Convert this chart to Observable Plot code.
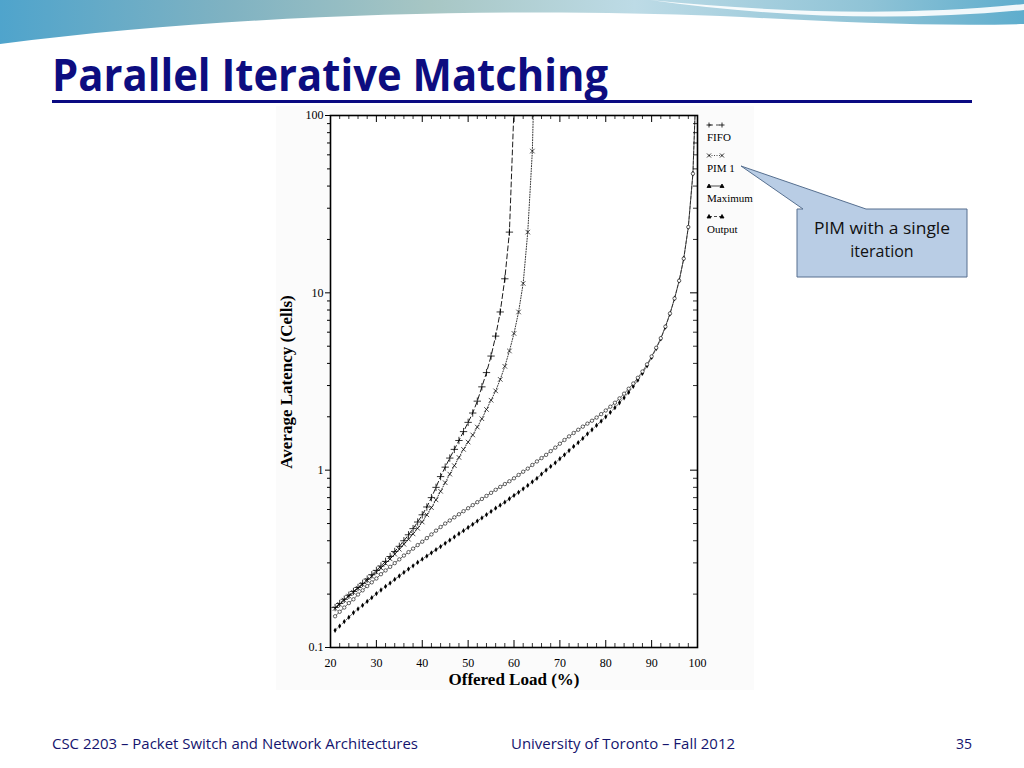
<!DOCTYPE html>
<html><head><meta charset="utf-8">
<script src="https://cdn.jsdelivr.net/npm/d3@7"></script>
<script src="https://cdn.jsdelivr.net/npm/@observablehq/plot@0.6"></script>
<style>
body{margin:0;background:#fff;}
#slide{position:relative;width:1024px;height:768px;overflow:hidden;background:#fff;}
.abs{position:absolute;}
</style></head><body>
<div id="slide">
<svg class="abs" style="left:0;top:0" width="1024" height="768" xmlns="http://www.w3.org/2000/svg">
  <defs>
    <linearGradient id="wg" x1="0" x2="1" y1="0" y2="0">
      <stop offset="0" stop-color="#4fa4cc"/>
      <stop offset="0.22" stop-color="#7fb2c2"/>
      <stop offset="0.42" stop-color="#a7c6c4"/>
      <stop offset="0.62" stop-color="#bddbe6"/>
      <stop offset="0.85" stop-color="#8fc3d6"/>
      <stop offset="1" stop-color="#5eadcd"/>
    </linearGradient>
  </defs>
  <path d="M0,0 H1024 V24 C930,27 820,21 720,16 C520,8 250,12 0,44 Z" fill="url(#wg)"/>
  <path d="M650,0 C770,12 900,17 1024,4 L1024,10 C900,22 770,17 650,0 Z" fill="#ffffff" opacity="0.9"/>
  <rect x="276" y="106" width="478" height="584" fill="#fbfbfb"/>
  <text x="52" y="91" font-family="Open Sans, sans-serif" font-weight="700" font-size="44" fill="#0d0d80" textLength="556" lengthAdjust="spacingAndGlyphs">Parallel Iterative Matching</text>
  <rect x="52" y="100" width="920" height="3" fill="#0a0a82"/>
  <text x="52" y="749" font-family="Open Sans, sans-serif" font-size="14" fill="#14146e" textLength="366" lengthAdjust="spacingAndGlyphs">CSC 2203 – Packet Switch and Network Architectures</text>
  <text x="511" y="749" font-family="Open Sans, sans-serif" font-size="14" fill="#14146e" textLength="224" lengthAdjust="spacingAndGlyphs">University of Toronto – Fall 2012</text>
  <text x="972" y="749" font-family="Open Sans, sans-serif" font-size="14" fill="#14146e" text-anchor="end">35</text>
  <text transform="translate(292,382) rotate(-90)" text-anchor="middle" font-family="Liberation Serif, serif" font-weight="700" font-size="17" fill="#000">Average Latency (Cells)</text>
  <text x="514" y="685" text-anchor="middle" font-family="Liberation Serif, serif" font-weight="700" font-size="17" fill="#000">Offered Load (%)</text>
  <g id="legend" font-family="Liberation Serif, serif" font-size="11" fill="#000"></g>
  <path d="M797,209 L803,209 L741,166 L866,209 L967,209 L967,277 L797,277 Z" fill="#b9cde5" stroke="#566f8f" stroke-width="1"/>
  <text x="882" y="234" text-anchor="middle" font-family="Open Sans, sans-serif" font-size="16" fill="#111" textLength="136" lengthAdjust="spacingAndGlyphs">PIM with a single</text>
  <text x="882" y="257" text-anchor="middle" font-family="Open Sans, sans-serif" font-size="16" fill="#111">iteration</text>
</svg>
<div id="chart" class="abs" style="left:270px;top:105px"></div>
</div>
<script>
// ---- data ----
const xMajor = [20, 30, 40, 50, 60, 70, 80, 90, 100];
const xMinor = [22,24,26,28,32,34,36,38,42,44,46,48,52,54,56,58,62,64,66,68,72,74,76,78,82,84,86,88,92,94,96,98];
const yMajor = [0.1, 1, 10, 100];
const yTickLabels = ["0.1", "1", "10", "100"];
const yMinor = [0.2,0.3,0.4,0.5,0.6,0.7,0.8,0.9,2,3,4,5,6,7,8,9,20,30,40,50,60,70,80,90];

const seriesNames = ["FIFO", "PIM 1", "Maximum", "Output"];

const fifoLoad = [21,22,23,24,25,26,27,28,29,30,31,32,33,34,35,36,37,38,39,40,41,42,43,44,45,46,47,48,49,50,51,52,53,54,55,56,57,58,59,60];
const fifoLat  = [0.168,0.177,0.187,0.197,0.207,0.218,0.23,0.243,0.257,0.272,0.288,0.306,0.326,0.348,0.372,0.4,0.432,0.468,0.51,0.56,0.62,0.7,0.8,0.92,1.04,1.17,1.31,1.47,1.65,1.86,2.1,2.45,2.95,3.55,4.4,5.7,7.8,12,22,110];

const pimLoad = [21,22,23,24,25,26,27,28,29,30,31,32,33,34,35,36,37,38,39,40,41,42,43,44,45,46,47,48,49,50,51,52,53,54,55,56,57,58,59,60,61,62,63,64,65];
const pimLat  = [0.166,0.175,0.185,0.195,0.205,0.216,0.227,0.239,0.252,0.266,0.281,0.298,0.316,0.336,0.358,0.382,0.408,0.437,0.47,0.51,0.56,0.615,0.68,0.76,0.85,0.95,1.06,1.18,1.31,1.44,1.58,1.75,1.95,2.2,2.48,2.8,3.25,3.85,4.7,5.9,7.8,11.3,22,63,700];

const vlqLoad = [21,22,23,24,25,26,27,28,29,30,31,32,33,34,35,36,37,38,39,40,41,42,43,44,45,46,47,48,49,50,51,52,53,54,55,56,57,58,59,60,61,62,63,64,65,66,67,68,69,70,71,72,73,74,75,76,77,78,79,80,81,82,83,84,85,86,87,88,89,90,91,92,93,94,95,96,97,98,99,99.7];
const maxLat = [0.15,0.159,0.168,0.178,0.187,0.199,0.21,0.222,0.233,0.245,0.259,0.272,0.285,0.299,0.314,0.33,0.345,0.361,0.378,0.395,0.414,0.434,0.456,0.478,0.5,0.52,0.542,0.564,0.587,0.61,0.635,0.66,0.688,0.716,0.745,0.775,0.805,0.835,0.866,0.9,0.94,0.98,1.02,1.07,1.12,1.17,1.22,1.28,1.34,1.41,1.48,1.55,1.62,1.69,1.76,1.83,1.9,1.98,2.07,2.17,2.28,2.4,2.54,2.7,2.88,3.08,3.32,3.6,3.95,4.38,4.9,5.55,6.45,7.65,9.3,11.7,15.6,23.5,47,150];
const outLat = [0.125,0.132,0.14,0.148,0.157,0.165,0.173,0.182,0.191,0.201,0.211,0.221,0.231,0.242,0.253,0.265,0.277,0.289,0.302,0.315,0.328,0.342,0.356,0.371,0.387,0.403,0.42,0.438,0.456,0.475,0.495,0.516,0.538,0.561,0.585,0.61,0.635,0.66,0.69,0.72,0.75,0.785,0.82,0.86,0.9,0.95,1.0,1.05,1.1,1.16,1.22,1.29,1.36,1.43,1.51,1.6,1.69,1.79,1.89,2.0,2.12,2.25,2.4,2.56,2.75,2.97,3.22,3.52,3.88,4.32,4.85,5.5,6.4,7.6,9.3,11.7,15.6,23.5,47,150];

// ---- build tables ----
const toRows = (xs, ys) => xs.map((x, i) => ({load: x, lat: ys[i]}));
const fifo = toRows(fifoLoad, fifoLat);
const pim = toRows(pimLoad, pimLat);
const maxm = toRows(vlqLoad, maxLat);
const outq = toRows(vlqLoad, outLat);

const W = 440, H = 590, mL = 60, mR = 13, mT = 10, mB = 48;
const innerH = H - mT - mB, innerW = W - mL - mR;

const chart = Plot.plot({
  width: W, height: H,
  marginLeft: mL, marginRight: mR, marginTop: mT, marginBottom: mB,
  style: {fontFamily: "Liberation Serif, serif", fontSize: "12px", color: "black", background: "transparent", overflow: "visible"},
  x: {domain: [20, 100]},
  y: {type: "log", domain: [0.1, 100]},
  marks: [
    Plot.frame({fill: "white", stroke: null}),
    Plot.axisX({ticks: xMajor, tickSize: 0, tickPadding: 11, tickFormat: d => String(d), label: null}),
    Plot.axisY({ticks: yMajor, tickSize: 5, tickPadding: 2, tickFormat: d => yTickLabels[yMajor.indexOf(d)], label: null}),
    Plot.axisY({ticks: yMinor, tickSize: 3, tickFormat: () => "", label: null}),
    Plot.tickX(xMinor, {x: d => d, insetTop: innerH - 4, stroke: "black", strokeWidth: 0.8}),
    Plot.tickX(xMinor, {x: d => d, insetBottom: innerH - 4, stroke: "black", strokeWidth: 0.8}),
    Plot.tickX(xMajor, {x: d => d, insetTop: innerH - 7, stroke: "black", strokeWidth: 1}),
    Plot.tickX(xMajor, {x: d => d, insetBottom: innerH - 7, stroke: "black", strokeWidth: 1}),
    Plot.tickY(yMinor, {y: d => d, insetLeft: innerW - 4, stroke: "black", strokeWidth: 0.8}),
    Plot.tickY(yMajor, {y: d => d, insetLeft: innerW - 7, stroke: "black", strokeWidth: 1}),
    Plot.line(outq, {x: "load", y: "lat", stroke: "black", strokeWidth: 0.6, strokeDasharray: "3,2", clip: true}),
    Plot.line(maxm, {x: "load", y: "lat", stroke: "black", strokeWidth: 0.6, clip: true}),
    Plot.line(pim, {x: "load", y: "lat", stroke: "black", strokeWidth: 0.8, strokeDasharray: "1,1.6", clip: true}),
    Plot.line(fifo, {x: "load", y: "lat", stroke: "black", strokeWidth: 0.9, strokeDasharray: "5,3", clip: true}),
    Plot.dot(outq, {x: "load", y: "lat", symbol: "diamond", r: 1.6, fill: "black", clip: true}),
    Plot.dot(maxm, {x: "load", y: "lat", symbol: "circle", r: 1.7, fill: "white", stroke: "black", strokeWidth: 0.6, clip: true}),
    Plot.dot(pim, {x: "load", y: "lat", symbol: "times", r: 2.2, stroke: "black", strokeWidth: 0.7, clip: true}),
    Plot.dot(fifo, {x: "load", y: "lat", symbol: "plus", r: 2.5, stroke: "black", strokeWidth: 0.8, clip: true}),
    Plot.frame({stroke: "black", strokeWidth: 1.6})
  ]
});
document.getElementById("chart").appendChild(chart);

// ---- legend (outside the plot, right of the frame) ----
const lg = document.getElementById("legend");
const NS = "http://www.w3.org/2000/svg";
const legendStyle = [
  {dash: "4,3", sym: "plus"},
  {dash: "1,1.5", sym: "times"},
  {dash: null, sym: "tri"},
  {dash: "3,2", sym: "tri"}
];
seriesNames.forEach((name, i) => {
  const y0 = 125 + i * 30.5;
  const g = document.createElementNS(NS, "g");
  const ln = document.createElementNS(NS, "line");
  ln.setAttribute("x1", 709); ln.setAttribute("x2", 722);
  ln.setAttribute("y1", y0); ln.setAttribute("y2", y0);
  ln.setAttribute("stroke", "#000"); ln.setAttribute("stroke-width", 0.7);
  if (legendStyle[i].dash) ln.setAttribute("stroke-dasharray", legendStyle[i].dash);
  g.appendChild(ln);
  [709, 722].forEach(cx => {
    const p = document.createElementNS(NS, "path");
    let d;
    if (legendStyle[i].sym === "plus") d = `M${cx-2.5},${y0}h5M${cx},${y0-2.5}v5`;
    else if (legendStyle[i].sym === "times") d = `M${cx-2},${y0-2}l4,4M${cx-2},${y0+2}l4,-4`;
    else d = `M${cx-2},${y0+1.5}L${cx},${y0-2}L${cx+2},${y0+1.5}Z`;
    p.setAttribute("d", d);
    p.setAttribute("stroke", "#000"); p.setAttribute("stroke-width", 0.8);
    p.setAttribute("fill", "#000");
    g.appendChild(p);
  });
  const t = document.createElementNS(NS, "text");
  t.setAttribute("x", 707); t.setAttribute("y", y0 + 16);
  t.textContent = name;
  g.appendChild(t);
  lg.appendChild(g);
});
</script>
</body></html>
